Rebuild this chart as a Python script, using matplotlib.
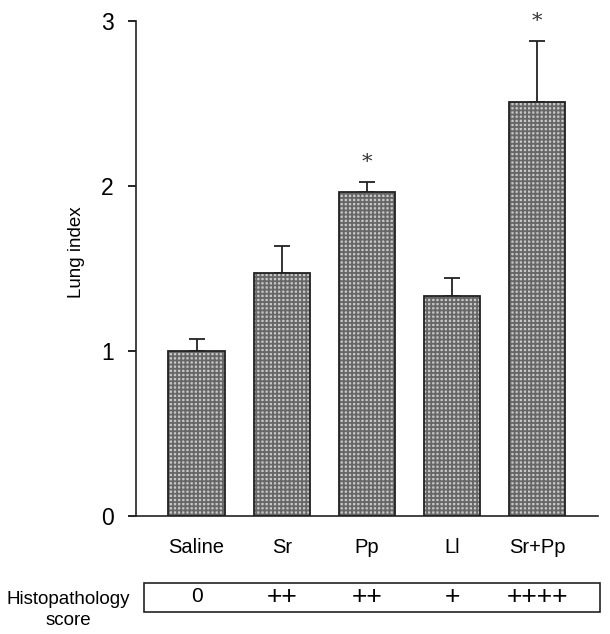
import matplotlib
matplotlib.use("Agg")
import matplotlib.pyplot as plt
from matplotlib.patches import Rectangle

plt.rcParams['font.family'] = ['Liberation Sans', 'DejaVu Sans']
plt.rcParams['hatch.linewidth'] = 1.3

# data
groups = ['Saline', 'Sr', 'Pp', 'Ll', 'Sr+Pp']
lung_index = [1.0, 1.47, 1.965, 1.335, 2.51]
sem = [0.075, 0.165, 0.06, 0.105, 0.37]
signif = ['', '', '*', '', '*']
histo_score = ['0', '++', '++', '+', '++++']

fig = plt.figure(figsize=(6.1, 6.34), dpi=100)
ax = fig.add_axes([0.223, 0.186, 0.757, 0.781])

x = range(len(groups))
# checkered fill: light face with dense dark grid, then black outline on top
ax.bar(x, lung_index, width=0.66, color='#c6c6c6', edgecolor='#666666',
       hatch='++++', linewidth=0, zorder=2)
ax.bar(x, lung_index, width=0.66, fill=False, edgecolor='#222222',
       linewidth=1.3, zorder=3)
ax.errorbar(x, lung_index, yerr=[[0] * len(sem), sem], fmt='none',
            ecolor='#222222', elinewidth=1.3, capsize=6, capthick=1.3, zorder=1)

for i, s in enumerate(signif):
    if s:
        ax.text(i, lung_index[i] + sem[i] + 0.06, s, ha='center', va='bottom',
                fontsize=15, family='DejaVu Serif', color='#333333')

ax.set_ylim(0, 3)
ax.set_xlim(-0.71, 4.71)
ax.set_yticks([0, 1, 2, 3])
ax.set_xticks(list(x))
ax.set_xticklabels(groups, fontsize=14.5)
ax.tick_params(axis='y', labelsize=16.5, length=6, width=1.2, direction='out', pad=10)
ax.tick_params(axis='x', length=0, pad=16)
ax.set_ylabel('Lung index', fontsize=13.5)
ax.yaxis.set_label_coords(-0.11, 0.533)
for side in ['top', 'right']:
    ax.spines[side].set_visible(False)
for side in ['left', 'bottom']:
    ax.spines[side].set_linewidth(1.2)
    ax.spines[side].set_color('#222222')

# histopathology score table under the axis
fig.patches.append(Rectangle((144 / 610, 1 - 612 / 634), 456 / 610, 29 / 634,
                             transform=fig.transFigure, fill=False,
                             edgecolor='#222222', linewidth=1.2))
for i, sc in enumerate(histo_score):
    xf = ax.transData.transform((i, 0))[0] / fig.bbox.width
    fs = 15 if sc == '0' else 19
    fig.text(xf, 1 - 597 / 634, sc, ha='center', va='center', fontsize=fs)
fig.text(68 / 610, 1 - 610 / 634, 'Histopathology\nscore', ha='center',
         va='center', fontsize=13.5, linespacing=1.3)

fig.savefig('out.png', dpi=100)
